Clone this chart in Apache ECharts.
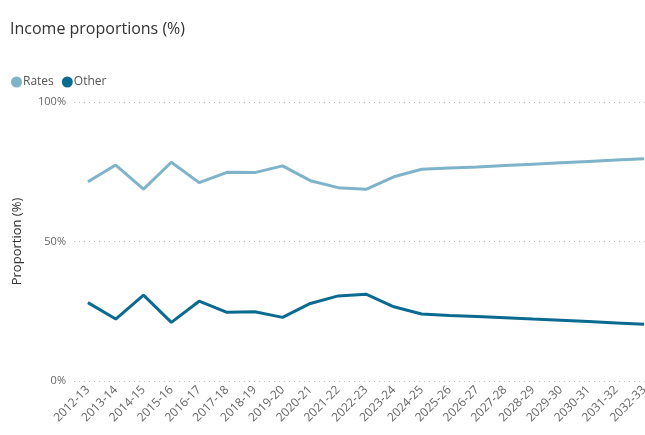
<!DOCTYPE html>
<html>
<head>
<meta charset="utf-8">
<script src="https://cdn.jsdelivr.net/npm/echarts@6/dist/echarts.min.js"></script>
<style>
html,body{margin:0;padding:0;background:#fff;overflow:hidden;}
#chart{width:645px;height:435px;}
</style>
</head>
<body>
<div id="chart"></div>
<script>
const categories = ["2012-13","2013-14","2014-15","2015-16","2016-17","2017-18","2018-19","2019-20","2020-21","2021-22","2022-23","2023-24","2024-25","2025-26","2026-27","2027-28","2028-29","2029-30","2030-31","2031-32","2032-33"];
const rates = [71.4,77.4,68.8,78.4,71.1,74.8,74.7,77.1,71.8,69.3,68.7,73.2,75.9,76.3,76.7,77.2,77.7,78.2,78.7,79.2,79.7];
const other = [28.1,22.2,30.8,21.0,28.6,24.6,24.8,22.8,27.8,30.5,31.1,26.6,24.0,23.5,23.1,22.7,22.2,21.8,21.3,20.8,20.3];
const yTicks = [0,50,100];

const font = "'Open Sans', 'Noto Sans', sans-serif";
const chart = echarts.init(document.getElementById('chart'), null, {renderer:'canvas'});
chart.setOption({
  animation:false,
  title:{
    text:'Income proportions (%)', left:5, top:16,
    textStyle:{fontFamily:font, fontSize:16, fontWeight:'normal', color:'#333333'}
  },
  legend:{
    left:6, top:71, itemGap:8, itemWidth:11, itemHeight:11,
    icon:'circle',
    textStyle:{fontFamily:font, fontSize:12, color:'#555555', padding:[0,0,0,-4]},
    data:['Rates','Other']
  },
  grid:{left:74, width:584, top:102, bottom:54, containLabel:false, outerBoundsMode:'none'},
  xAxis:{
    type:'category', data:categories, boundaryGap:true,
    axisLine:{show:false}, axisTick:{show:false},
    axisLabel:{rotate:45, margin:7, interval:0, fontFamily:font, fontSize:12, color:'#666666'}
  },
  yAxis:{
    type:'value', min:0, max:100, interval:50,
    name:'Proportion (%)', nameLocation:'middle', nameGap:50, nameRotate:90,
    nameTextStyle:{fontFamily:font, fontSize:13, color:'#333333'},
    axisLine:{show:false}, axisTick:{show:false},
    axisLabel:{formatter: v => yTicks.includes(v) ? v + '%' : '', margin:8, fontFamily:font, fontSize:11, color:'#666666'},
    splitLine:{show:true, lineStyle:{type:[1,4], color:'#bbbbbb', width:1}}
  },
  series:[
    {name:'Rates', type:'line', data:rates, showSymbol:false, symbol:'circle',
     itemStyle:{color:'#7fb3c9'}, lineStyle:{width:3, color:'#7fb3c9'}},
    {name:'Other', type:'line', data:other, showSymbol:false, symbol:'circle',
     itemStyle:{color:'#0b6a90'}, lineStyle:{width:3, color:'#0b6a90'}}
  ]
});
</script>
</body>
</html>
